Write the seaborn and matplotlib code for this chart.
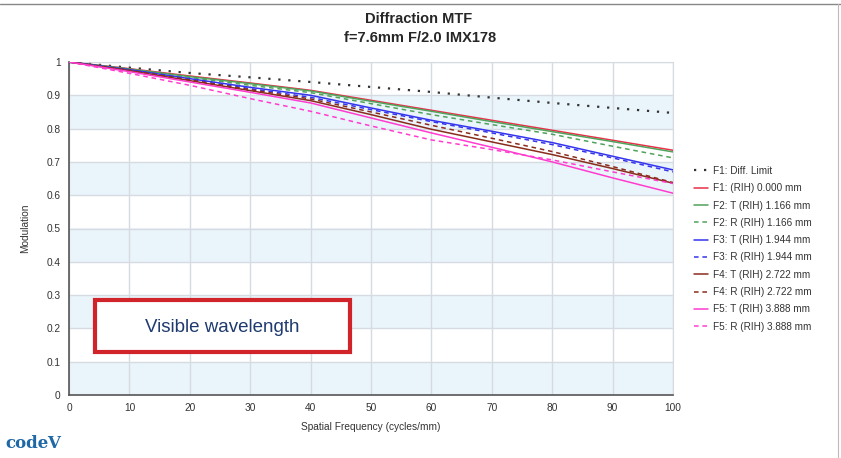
import numpy as np
import pandas as pd
import matplotlib
matplotlib.use('Agg')
import matplotlib.pyplot as plt
import seaborn as sns
from matplotlib.patches import Rectangle
from matplotlib.lines import Line2D

freq = [0, 10, 20, 30, 40, 50, 60, 70, 80, 90, 100]

diff_limit = [1.0, 0.983, 0.967, 0.954, 0.940, 0.925, 0.910, 0.893, 0.877, 0.862, 0.847]
f1_rih = [1.0, 0.980, 0.958, 0.937, 0.915, 0.885, 0.855, 0.825, 0.795, 0.765, 0.735]
f2_t = [1.0, 0.979, 0.956, 0.935, 0.913, 0.882, 0.852, 0.821, 0.791, 0.761, 0.730]
f2_r = [1.0, 0.978, 0.954, 0.930, 0.908, 0.875, 0.842, 0.812, 0.783, 0.747, 0.712]
f3_t = [1.0, 0.977, 0.950, 0.924, 0.900, 0.862, 0.825, 0.792, 0.758, 0.717, 0.676]
f3_r = [1.0, 0.976, 0.948, 0.920, 0.894, 0.857, 0.821, 0.787, 0.752, 0.712, 0.670]
f4_t = [1.0, 0.974, 0.944, 0.914, 0.884, 0.842, 0.798, 0.760, 0.722, 0.680, 0.636]
f4_r = [1.0, 0.975, 0.946, 0.917, 0.889, 0.850, 0.810, 0.771, 0.731, 0.686, 0.638]
f5_t = [1.0, 0.971, 0.940, 0.909, 0.877, 0.832, 0.787, 0.744, 0.700, 0.652, 0.606]
f5_r = [1.0, 0.966, 0.930, 0.890, 0.852, 0.808, 0.766, 0.737, 0.706, 0.670, 0.635]

series = [
    ("F1: Diff. Limit", diff_limit, "#333333", (0, (1, 3.5)), 1.6),
    ("F1: (RIH) 0.000 mm", f1_rih, "#e8304a", "-", 1.1),
    ("F2: T (RIH) 1.166 mm", f2_t, "#4fa35a", "-", 1.1),
    ("F2: R (RIH) 1.166 mm", f2_r, "#4fa35a", (0, (3, 2.5)), 1.1),
    ("F3: T (RIH) 1.944 mm", f3_t, "#3434ee", "-", 1.1),
    ("F3: R (RIH) 1.944 mm", f3_r, "#3434ee", (0, (3, 2.5)), 1.1),
    ("F4: T (RIH) 2.722 mm", f4_t, "#8a2c1c", "-", 1.1),
    ("F4: R (RIH) 2.722 mm", f4_r, "#8a2c1c", (0, (3, 2.5)), 1.1),
    ("F5: T (RIH) 3.888 mm", f5_t, "#ff3ccf", "-", 1.1),
    ("F5: R (RIH) 3.888 mm", f5_r, "#ff3ccf", (0, (3, 2.5)), 1.1),
]

sns.set_style("white")
plt.rcParams['font.family'] = ['Liberation Sans', 'DejaVu Sans']

fig = plt.figure(figsize=(8.41, 4.58), dpi=100)
ax = fig.add_axes([69 / 841, 63 / 458, 604 / 841, 333 / 458])

# alternating bands
for lo in [0.0, 0.2, 0.4, 0.6, 0.8]:
    ax.axhspan(lo, lo + 0.1, color="#eaf4fb", zorder=0, lw=0)

ax.set_xticks(np.arange(0, 101, 10))
ax.set_yticks(np.arange(0, 1.01, 0.1))
ax.set_yticklabels(["0", "0.1", "0.2", "0.3", "0.4", "0.5", "0.6", "0.7", "0.8", "0.9", "1"])
ax.grid(True, color="#d5dbe1", lw=1)
ax.set_axisbelow(True)

handles = []
for name, vals, color, ls, lw in series:
    sns.lineplot(x=freq, y=vals, ax=ax, color=color, linestyle=ls, linewidth=lw, zorder=3)
    handles.append(Line2D([0], [0], color=color, linestyle=ls, linewidth=lw, label=name))

ax.set_xlim(0, 100)
ax.set_ylim(0, 1)
for s in ["top", "right"]:
    ax.spines[s].set_color("#d5dbe1")
for s in ["left", "bottom"]:
    ax.spines[s].set_color("#555555")
    ax.spines[s].set_linewidth(1.2)
ax.tick_params(axis="both", direction="inout", length=5, width=0.8, color="#555555",
               labelsize=7.3, labelcolor="#333333")

ax.set_xlabel("Spatial Frequency (cycles/mm)", fontsize=7.3, color="#333333", labelpad=6)
ax.set_ylabel("Modulation", fontsize=7.3, color="#333333", labelpad=12)

ax.legend(handles=handles, loc="upper left", bbox_to_anchor=(1.02, 0.715), frameon=False,
          fontsize=7.2, handlelength=1.4, handletextpad=0.5, labelspacing=0.73,
          labelcolor="#333333")

fig.text(0.498, 0.958, "Diffraction MTF", ha="center", va="center", fontsize=10.5, fontweight="bold")
fig.text(0.500, 0.917, "f=7.6mm F/2.0 IMX178", ha="center", va="center", fontsize=10.5, fontweight="bold")

# slide decorations
fig.add_artist(Line2D([0, 1], [1 - 4 / 458, 1 - 4 / 458], color="#888888", lw=1))
fig.add_artist(Line2D([838 / 841, 838 / 841], [0, 1 - 4 / 458], color="#bbbbbb", lw=0.8))

# annotation box
fig.add_artist(Rectangle((95 / 841, 1 - 352 / 458), 255 / 841, 52 / 458, transform=fig.transFigure,
                         facecolor="white", edgecolor="#d0232a", lw=3, zorder=10))
fig.text(222 / 841, 1 - 327 / 458, "Visible wavelength", ha="center", va="center",
         fontsize=13.5, color="#1f3a6e", zorder=11)

# logo
fig.text(5 / 841, 1 - 443 / 458, "code", ha="left", va="center", fontsize=12,
         fontweight="bold", color="#1f68a8", family="DejaVu Serif")
fig.text(47 / 841, 1 - 443 / 458, "V", ha="left", va="center", fontsize=12,
         fontweight="bold", color="#1f68a8", family="DejaVu Serif")

fig.savefig("out.png", dpi=100)
